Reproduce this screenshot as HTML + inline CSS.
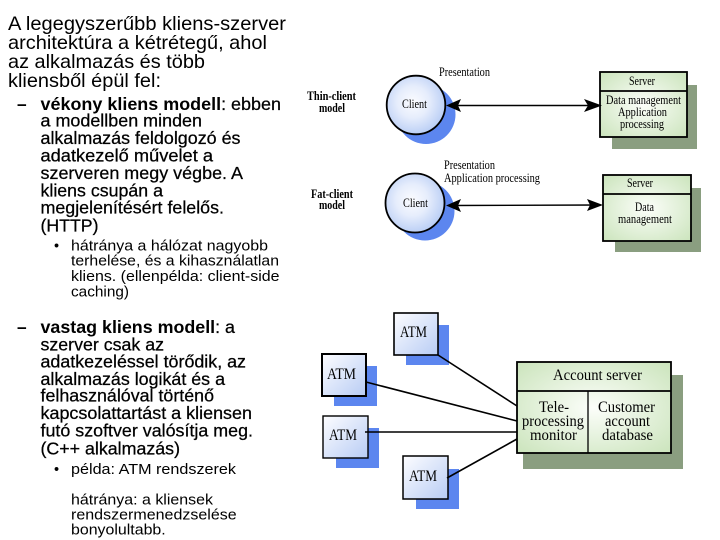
<!DOCTYPE html>
<html><head><meta charset="utf-8">
<style>
html,body{margin:0;padding:0;background:#fff;width:720px;height:540px;overflow:hidden}
svg{display:block}
.t{font-family:"Liberation Sans",sans-serif;font-size:19.5px;fill:#000}
.s{font-family:"Liberation Sans",sans-serif;font-size:17.3px;fill:#000;stroke:#000;stroke-width:.25}
.b{font-weight:bold;stroke-width:0}
.u{font-family:"Liberation Sans",sans-serif;font-size:14.5px;fill:#000}
.d text{font-family:"Liberation Serif",serif;font-size:12.5px;fill:#000}
.a text{font-family:"Liberation Serif",serif;font-size:15.5px;fill:#000}
</style></head><body>
<svg width="720" height="540" viewBox="0 0 720 540" xmlns="http://www.w3.org/2000/svg">
<defs>
<radialGradient id="c" cx="45%" cy="45%" r="60%"><stop offset="0" stop-color="#fbfcff"/><stop offset=".45" stop-color="#e6edfc"/><stop offset="1" stop-color="#b4caf4"/></radialGradient>
<radialGradient id="g" cx="50%" cy="50%" r="70%"><stop offset="0" stop-color="#fcfefa"/><stop offset="1" stop-color="#cbe4bc"/></radialGradient>
<linearGradient id="q" x1="0" y1="0" x2="1" y2="1"><stop offset="0" stop-color="#fdfdff"/><stop offset="1" stop-color="#b8ccf4"/></linearGradient>
<filter id="bl" x="-5%" y="-5%" width="110%" height="110%"><feGaussianBlur stdDeviation="0.3"/></filter>
</defs>

<text class="t" x="8" y="30" textLength="278" lengthAdjust="spacingAndGlyphs">A legegyszerűbb kliens-szerver</text>
<text class="t" x="8" y="49" textLength="259" lengthAdjust="spacingAndGlyphs">architektúra a kétrétegű, ahol</text>
<text class="t" x="8" y="68" textLength="197" lengthAdjust="spacingAndGlyphs">az alkalmazás és több</text>
<text class="t" x="8" y="87" textLength="153" lengthAdjust="spacingAndGlyphs">kliensből épül fel:</text>

<text class="s b" x="17" y="110">–</text>
<text class="s" x="40.5" y="110" textLength="240.5" lengthAdjust="spacingAndGlyphs"><tspan class="b">vékony kliens modell</tspan>: ebben</text>
<text class="s" x="40.5" y="126.6" textLength="161.5" lengthAdjust="spacingAndGlyphs">a modellben minden</text>
<text class="s" x="40.5" y="144" textLength="200" lengthAdjust="spacingAndGlyphs">alkalmazás feldolgozó és</text>
<text class="s" x="40.5" y="161.6" textLength="172.5" lengthAdjust="spacingAndGlyphs">adatkezelő művelet a</text>
<text class="s" x="40.5" y="179" textLength="202.5" lengthAdjust="spacingAndGlyphs">szerveren megy végbe. A</text>
<text class="s" x="40.5" y="196.6" textLength="122.5" lengthAdjust="spacingAndGlyphs">kliens csupán a</text>
<text class="s" x="40.5" y="213.5" textLength="183.5" lengthAdjust="spacingAndGlyphs">megjelenítésért felelős.</text>
<text class="s" x="40.5" y="231.5" textLength="58" lengthAdjust="spacingAndGlyphs">(HTTP)</text>

<text class="u" x="54" y="250.5">•</text>
<text class="u" x="71" y="250.5" textLength="197" lengthAdjust="spacingAndGlyphs">hátránya a hálózat nagyobb</text>
<text class="u" x="71" y="265.5" textLength="208" lengthAdjust="spacingAndGlyphs">terhelése, és a kihasználatlan</text>
<text class="u" x="71" y="281" textLength="208.5" lengthAdjust="spacingAndGlyphs">kliens. (ellenpélda: client-side</text>
<text class="u" x="71" y="296.5" textLength="58" lengthAdjust="spacingAndGlyphs">caching)</text>

<text class="s b" x="17" y="333">–</text>
<text class="s" x="40.5" y="333" textLength="194.5" lengthAdjust="spacingAndGlyphs"><tspan class="b">vastag kliens modell</tspan>: a</text>
<text class="s" x="40.5" y="350.7" textLength="123.5" lengthAdjust="spacingAndGlyphs">szerver csak az</text>
<text class="s" x="40.5" y="367.7" textLength="205.5" lengthAdjust="spacingAndGlyphs">adatkezeléssel törődik, az</text>
<text class="s" x="40.5" y="385" textLength="184.5" lengthAdjust="spacingAndGlyphs">alkalmazás logikát és a</text>
<text class="s" x="40.5" y="401.7" textLength="173.5" lengthAdjust="spacingAndGlyphs">felhasználóval történő</text>
<text class="s" x="40.5" y="419" textLength="211.5" lengthAdjust="spacingAndGlyphs">kapcsolattartást a kliensen</text>
<text class="s" x="40.5" y="436.7" textLength="212.5" lengthAdjust="spacingAndGlyphs">futó szoftver valósítja meg.</text>
<text class="s" x="40.5" y="454.3" textLength="139.5" lengthAdjust="spacingAndGlyphs">(C++ alkalmazás)</text>

<text class="u" x="54" y="474">•</text>
<text class="u" x="71" y="474" textLength="165" lengthAdjust="spacingAndGlyphs">példa: ATM rendszerek</text>
<text class="u" x="71" y="504.3" textLength="142" lengthAdjust="spacingAndGlyphs">hátránya: a kliensek</text>
<text class="u" x="71" y="519.3" textLength="165.7" lengthAdjust="spacingAndGlyphs">rendszermenedzselése</text>
<text class="u" x="71" y="534.3" textLength="94.7" lengthAdjust="spacingAndGlyphs">bonyolultabb.</text>

<g class="d" filter="url(#bl)">
<circle cx="426" cy="114.5" r="29.5" fill="#5b86ef"/>
<circle cx="416" cy="105" r="29.3" fill="url(#c)" stroke="#000" stroke-width="1.8"/>
<rect x="612" y="85" width="85" height="64" fill="#8a9e80"/>
<rect x="600" y="72" width="87" height="65" fill="url(#g)" stroke="#000" stroke-width="1.8"/>
<line x1="600" y1="91" x2="687" y2="91" stroke="#000" stroke-width="1.8"/>
<line x1="450" y1="105.5" x2="598" y2="105.5" stroke="#000" stroke-width="1.4"/>
<path d="M446 105.5L461 99L458 105.5L461 112Z" fill="#000"/>
<path d="M602 105.5L584 99L588 105.5L584 112Z" fill="#000"/>

<circle cx="425" cy="211" r="29.5" fill="#5b86ef"/>
<circle cx="415" cy="203" r="29.5" fill="url(#c)" stroke="#000" stroke-width="1.8"/>
<rect x="615" y="188" width="86" height="64" fill="#8a9e80"/>
<rect x="603" y="175" width="88" height="66" fill="url(#g)" stroke="#000" stroke-width="1.8"/>
<line x1="603" y1="194" x2="691" y2="194" stroke="#000" stroke-width="1.8"/>
<line x1="450" y1="205.5" x2="600" y2="205" stroke="#000" stroke-width="1.4"/>
<path d="M446 205.5L461 199L458 205.5L461 212Z" fill="#000"/>
<path d="M603 205L587 199L590 205L587 211Z" fill="#000"/>

<text x="439" y="76" textLength="51" lengthAdjust="spacingAndGlyphs">Presentation</text>
<text x="307" y="100" textLength="49" lengthAdjust="spacingAndGlyphs" font-weight="bold">Thin-client</text>
<text x="319" y="112" textLength="26" lengthAdjust="spacingAndGlyphs" font-weight="bold">model</text>
<text x="402" y="108" textLength="25" lengthAdjust="spacingAndGlyphs">Client</text>
<text x="629" y="85" textLength="26" lengthAdjust="spacingAndGlyphs">Server</text>
<text x="606" y="104" textLength="75" lengthAdjust="spacingAndGlyphs">Data management</text>
<text x="618" y="116" textLength="49" lengthAdjust="spacingAndGlyphs">Application</text>
<text x="620" y="128" textLength="44" lengthAdjust="spacingAndGlyphs">processing</text>
<text x="444" y="169" textLength="51" lengthAdjust="spacingAndGlyphs">Presentation</text>
<text x="444" y="182" textLength="96" lengthAdjust="spacingAndGlyphs">Application processing</text>
<text x="311" y="198" textLength="42" lengthAdjust="spacingAndGlyphs" font-weight="bold">Fat-client</text>
<text x="319" y="209" textLength="26" lengthAdjust="spacingAndGlyphs" font-weight="bold">model</text>
<text x="403" y="207" textLength="25" lengthAdjust="spacingAndGlyphs">Client</text>
<text x="627" y="187" textLength="26" lengthAdjust="spacingAndGlyphs">Server</text>
<text x="635" y="211" textLength="19" lengthAdjust="spacingAndGlyphs">Data</text>
<text x="618" y="223" textLength="54" lengthAdjust="spacingAndGlyphs">management</text>
</g>

<g class="a" filter="url(#bl)">
<rect x="406" y="325" width="43" height="40" fill="#5b86ef"/>
<rect x="394" y="313" width="44" height="42" fill="url(#q)" stroke="#000" stroke-width="1.6"/>
<rect x="334" y="366" width="43" height="40" fill="#5b86ef"/>
<rect x="322" y="354" width="44" height="42" fill="url(#q)" stroke="#000" stroke-width="2"/>
<rect x="336" y="428" width="43" height="40" fill="#5b86ef"/>
<rect x="323" y="416" width="45" height="42" fill="url(#q)" stroke="#000" stroke-width="1.4"/>
<rect x="416" y="469" width="43" height="40" fill="#5b86ef"/>
<rect x="403" y="456" width="45" height="43" fill="url(#q)" stroke="#000" stroke-width="1.5"/>
<rect x="523" y="375" width="160" height="94" fill="#8a9e80"/>
<rect x="517" y="362" width="154" height="91" fill="url(#g)" stroke="#000" stroke-width="1.8"/>
<line x1="517" y1="391" x2="671" y2="391" stroke="#000" stroke-width="1.8"/>
<line x1="588" y1="391" x2="588" y2="453" stroke="#000" stroke-width="1.3"/>
<g stroke="#000" stroke-width="1.6">
<line x1="438" y1="355" x2="517" y2="406"/>
<line x1="366" y1="382" x2="517" y2="421"/>
<line x1="365" y1="432" x2="517" y2="432"/>
<line x1="447" y1="478" x2="517" y2="439"/>
</g>
<text x="400" y="337" textLength="27" lengthAdjust="spacingAndGlyphs">ATM</text>
<text x="327" y="379" textLength="29" lengthAdjust="spacingAndGlyphs">ATM</text>
<text x="329" y="440" textLength="28" lengthAdjust="spacingAndGlyphs">ATM</text>
<text x="409" y="481" textLength="28" lengthAdjust="spacingAndGlyphs">ATM</text>
<text x="553" y="380" textLength="89" lengthAdjust="spacingAndGlyphs">Account server</text>
<text x="539" y="412" textLength="30" lengthAdjust="spacingAndGlyphs">Tele-</text>
<text x="522" y="426" textLength="62" lengthAdjust="spacingAndGlyphs">processing</text>
<text x="530" y="440" textLength="47" lengthAdjust="spacingAndGlyphs">monitor</text>
<text x="598" y="412" textLength="57" lengthAdjust="spacingAndGlyphs">Customer</text>
<text x="605" y="426" textLength="45" lengthAdjust="spacingAndGlyphs">account</text>
<text x="602" y="440" textLength="51" lengthAdjust="spacingAndGlyphs">database</text>
</g>
</svg>
</body></html>
